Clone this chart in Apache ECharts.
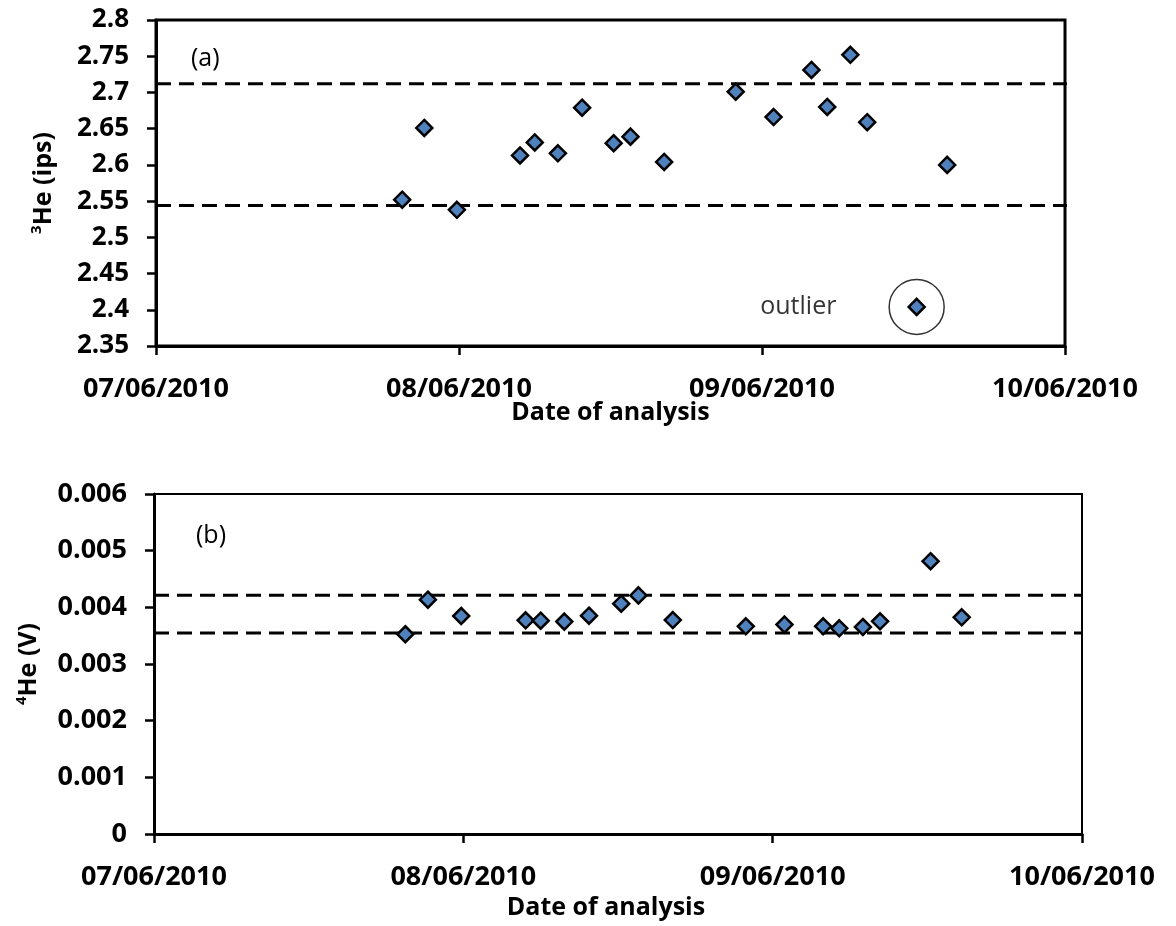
<!DOCTYPE html>
<html>
<head>
<meta charset="utf-8">
<script src="https://cdn.jsdelivr.net/npm/echarts@6/dist/echarts.min.js"></script>
<style>
  html, body { margin: 0; padding: 0; background: #fff; }
  #chart { width: 1176px; height: 926px; }
</style>
</head>
<body>
<div id="chart"></div>
<script>
// Times of each analysis (UTC)
const analysisTimes = [
  '2010-06-07T19:30', '2010-06-07T21:15', '2010-06-07T23:50',
  '2010-06-08T04:50', '2010-06-08T06:00', '2010-06-08T07:50',
  '2010-06-08T09:45', '2010-06-08T12:15', '2010-06-08T13:35',
  '2010-06-08T16:15', '2010-06-08T21:55', '2010-06-09T00:55',
  '2010-06-09T03:55', '2010-06-09T05:10', '2010-06-09T07:00',
  '2010-06-09T08:20', '2010-06-09T12:15', '2010-06-09T14:40'
];
// 3He signal (ips)
const he3Ips = [
  2.552, 2.651, 2.538, 2.613, 2.631, 2.616, 2.679, 2.630, 2.639,
  2.604, 2.701, 2.666, 2.731, 2.680, 2.752, 2.659, 2.404, 2.600
];
// 4He signal (V)
const he4Volts = [
  0.003525, 0.004135, 0.003847, 0.003771, 0.003765, 0.003748, 0.003853, 0.004065, 0.004211,
  0.003776, 0.003665, 0.003695, 0.003665, 0.003630, 0.003653, 0.003753, 0.004815, 0.003824
];
// Acceptance limits (dashed lines)
const he3Limits = [2.544, 2.712];
const he4Limits = [0.003545, 0.004213];
// Rejected 3He measurement
const outlierIndex = 16;
// Date axis ticks
const dateTicks = ['2010-06-07', '2010-06-08', '2010-06-09', '2010-06-10'];
const he3Ticks = { min: 2.35, max: 2.8, step: 0.05 };
const he4Ticks = { min: 0, max: 0.006, step: 0.001 };

const DAY = 86400000;
const toMs = s => Date.parse(s.length > 10 ? s + ':00Z' : s + 'T00:00:00Z');
const xMin = toMs(dateTicks[0]);
const xMax = toMs(dateTicks[dateTicks.length - 1]);
const pad = n => (n < 10 ? '0' : '') + n;
const fmtDate = v => {
  const d = new Date(v);
  return pad(d.getUTCDate()) + '/' + pad(d.getUTCMonth() + 1) + '/' + d.getUTCFullYear();
};

const FONT = 'Open Sans';
const BLUE = '#4F81BD';
const pts = vals => analysisTimes.map((t, i) => [toMs(t), vals[i]]);

function xAxisCfg(gridIndex, lineWidth, labelMargin, nameGap, namePad) {
  return {
    type: 'value', gridIndex, min: xMin, max: xMax, interval: DAY,
    name: 'Date of analysis', nameLocation: 'middle', nameGap, nameMoveOverlap: false,
    nameTextStyle: { fontFamily: FONT, fontWeight: 'bold', fontSize: 25, color: '#000', padding: namePad },
    axisLine: { show: true, onZero: false, lineStyle: { color: '#000', width: lineWidth } },
    axisTick: { show: true, inside: false, length: 9, lineStyle: { color: '#000', width: 2.5 } },
    axisLabel: {
      show: true, margin: labelMargin, formatter: fmtDate, showMinLabel: true, showMaxLabel: true,
      fontFamily: FONT, fontWeight: 'bold', fontSize: 27, color: '#000'
    },
    splitLine: { show: false }
  };
}

function yAxisCfg(gridIndex, ticks, name, nameGap, labelSize) {
  return {
    type: 'value', gridIndex, min: ticks.min, max: ticks.max, interval: ticks.step,
    name, nameLocation: 'middle', nameGap, nameRotate: 90, nameMoveOverlap: false,
    nameTextStyle: {
      fontFamily: FONT, fontWeight: 'bold', fontSize: 25, color: '#000',
      rich: { sup: { fontFamily: FONT, fontWeight: 'bold', fontSize: 15, color: '#000', verticalAlign: 'top', lineHeight: 30 } }
    },
    axisLine: { show: true, onZero: false, lineStyle: { color: '#000', width: 3 } },
    axisTick: { show: true, inside: false, length: 9, lineStyle: { color: '#000', width: 2.5 } },
    axisLabel: { margin: 27, fontFamily: FONT, fontWeight: 'bold', fontSize: labelSize, color: '#000' },
    splitLine: { show: false }
  };
}

function limitLine(xi, yi, value, overhangDays) {
  return {
    type: 'line', xAxisIndex: xi, yAxisIndex: yi, clip: false, silent: true,
    symbol: 'none', z: 2, animation: false,
    data: [[xMin, value], [xMax + overhangDays * DAY, value]],
    lineStyle: { color: '#000', width: 3, type: [15, 8] }
  };
}

function diamonds(xi, yi, vals) {
  return {
    type: 'scatter', xAxisIndex: xi, yAxisIndex: yi, z: 5,
    symbol: 'diamond', symbolSize: 16,
    itemStyle: { color: BLUE, borderColor: '#000', borderWidth: 2.5, opacity: 1 },
    data: pts(vals)
  };
}

const chart = echarts.init(document.getElementById('chart'), null, { renderer: 'canvas' });
chart.setOption({
  backgroundColor: '#fff',
  animation: false,
  grid: [
    { left: 156, top: 20, width: 909, height: 326, show: true, borderColor: '#000', borderWidth: 3, backgroundColor: 'transparent' },
    { left: 154, top: 494, width: 928, height: 340, show: true, borderColor: '#000', borderWidth: 2, backgroundColor: 'transparent' }
  ],
  xAxis: [
    xAxisCfg(0, 3, 30, 54, [0, 0, 0, 0]),
    xAxisCfg(1, 3, 30, 61, [0, 24, 0, 0])
  ],
  yAxis: [
    yAxisCfg(0, he3Ticks, '{sup|3}He (ips)', 97, 26),
    yAxisCfg(1, he4Ticks, '{sup|4}He (V)', 110, 27)
  ],
  graphic: [
    { type: 'text', left: 191, top: 46, style: { text: '(a)', fontFamily: FONT, fontSize: 25, fill: '#000' } },
    { type: 'text', left: 196, top: 523, style: { text: '(b)', fontFamily: FONT, fontSize: 25, fill: '#000' } }
  ],
  series: [
    limitLine(0, 0, he3Limits[0], 0.05),
    limitLine(0, 0, he3Limits[1], 0.05),
    {
      type: 'scatter', xAxisIndex: 0, yAxisIndex: 0, z: 4, silent: true,
      symbol: 'circle', symbolSize: 55,
      itemStyle: { color: 'rgba(0,0,0,0)', borderColor: '#000', borderWidth: 1.5 },
      label: {
        show: true, position: 'left', distance: 52, formatter: 'outlier',
        fontFamily: FONT, fontSize: 25, color: '#000'
      },
      data: [[toMs(analysisTimes[outlierIndex]), he3Ips[outlierIndex]]]
    },
    diamonds(0, 0, he3Ips),
    limitLine(1, 1, he4Limits[0], 0),
    limitLine(1, 1, he4Limits[1], 0),
    diamonds(1, 1, he4Volts)
  ]
});
</script>
</body>
</html>
